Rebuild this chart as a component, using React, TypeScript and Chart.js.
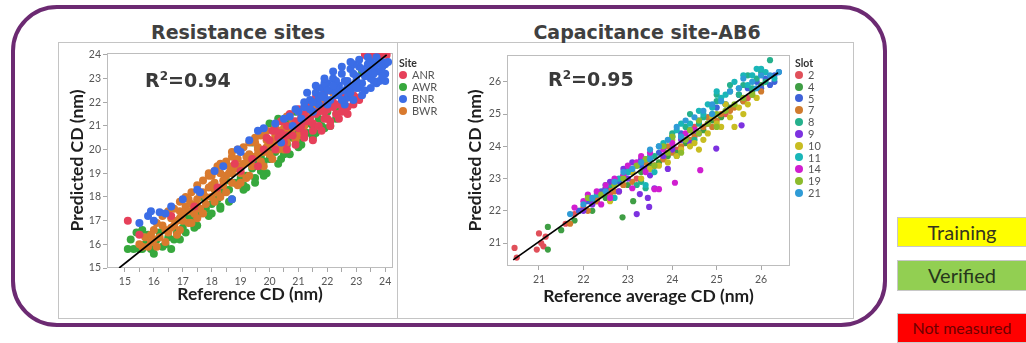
import React, { useEffect, useRef } from 'react';
import { Chart, registerables } from 'chart.js';

Chart.register(...registerables);

// ---------- Resistance sites (left chart) ----------
const siteNames = ['ANR', 'AWR', 'BNR', 'BWR'];
const siteColors = ['#e6405a', '#37a83d', '#3b6de6', '#d97a2e'];
// stacking: larger = drawn further back
const siteDepth = [2, 4, 1, 3];

const anrPts = [
  [19.0, 19.1], [19.4, 19.6], [19.8, 20.0], [20.0, 20.4], [20.2, 20.0], [20.4, 20.7], [20.5, 20.3], [20.6, 21.0],
  [20.8, 20.6], [20.9, 21.2], [21.0, 20.9], [21.1, 21.4], [21.2, 20.7], [21.3, 21.2], [21.4, 21.7], [21.5, 21.1],
  [21.6, 21.5], [21.7, 21.0], [21.8, 21.8], [21.9, 21.3], [22.0, 21.7], [22.1, 21.2], [22.2, 22.0], [22.3, 21.5],
  [22.4, 21.9], [22.5, 21.6], [22.6, 22.1], [22.7, 21.8], [21.0, 21.7], [20.7, 21.5], [23.3, 24.0], [23.55, 24.0],
  [23.8, 24.0], [24.05, 24.0], [15.1, 17.0], [15.5, 16.4], [16.6, 17.2], [17.4, 17.6], [18.2, 18.4], [18.8, 19.4],
  [19.6, 19.3], [20.1, 20.8], [21.5, 20.8], [22.0, 21.3], [22.4, 22.3], [20.3, 20.5], [21.7, 21.9],
  [20.6, 20.0], [20.9, 20.2], [21.2, 20.5], [21.5, 20.4], [21.8, 20.8], [22.1, 21.0], [22.4, 21.3], [22.7, 21.5],
  [22.9, 21.9], [23.0, 22.2], [22.5, 22.3], [22.8, 22.6], [21.3, 21.9], [21.6, 22.2], [21.9, 22.4], [20.4, 21.2],
  [20.2, 20.8], [19.9, 20.5], [21.1, 21.0], [21.4, 21.3], [21.7, 21.6], [22.0, 22.0],
  [21.9, 21.6], [22.2, 21.8], [22.6, 21.7], [21.2, 21.5], [20.6, 20.6], [22.9, 22.3], [23.1, 22.1],
];
const awrPts = [
  [15.1, 15.8], [15.3, 15.8], [15.5, 15.8], [15.6, 16.6], [15.4, 16.5], [15.7, 16.0], [15.9, 15.8], [16.1, 16.2],
  [16.3, 15.9], [16.5, 16.3], [16.6, 15.8], [16.4, 16.0], [16.8, 16.5], [17.0, 16.7], [17.2, 17.2], [17.4, 17.0],
  [17.6, 17.3], [17.8, 17.5], [18.0, 17.7], [18.2, 17.9], [18.4, 18.2], [18.6, 18.3], [18.8, 18.6], [19.0, 18.8],
  [19.2, 18.9], [19.4, 19.2], [19.5, 18.8], [19.6, 19.4], [19.8, 19.5], [20.0, 19.6], [20.2, 19.9], [20.4, 20.1],
  [20.6, 20.2], [20.8, 20.5], [21.0, 20.4], [21.1, 20.8], [21.3, 20.7], [21.5, 21.0], [21.7, 21.3], [20.0, 21.1],
  [20.3, 21.3], [17.7, 18.0], [18.5, 18.7], [19.3, 19.6], [19.9, 20.0], [20.7, 20.9], [21.2, 21.2], [22.0, 21.6],
  [22.3, 21.8], [23.2, 23.3], [15.2, 16.2], [16.2, 16.5], [19.1, 18.5], [19.7, 19.1], [20.5, 19.8], [18.3, 17.6],
  [17.1, 16.5], [17.5, 16.8], [17.9, 17.2], [18.3, 17.5], [18.7, 17.9], [19.1, 18.3], [19.5, 18.6], [19.9, 19.0],
  [20.3, 19.4], [20.7, 19.8], [21.1, 20.2], [21.5, 20.5], [21.9, 20.9], [22.3, 21.3], [20.5, 20.5], [20.9, 20.8],
  [21.3, 21.1], [19.7, 19.7], [20.1, 19.9], [21.8, 21.0], [16.0, 15.6], [15.8, 16.4], [16.7, 16.2], [19.4, 20.3],
  [19.8, 20.7], [20.6, 21.2], [20.9, 21.6],
  [17.4, 16.7], [18.0, 17.3], [18.6, 17.8], [19.2, 18.4], [19.8, 18.9], [20.4, 19.6], [21.0, 20.1], [21.6, 20.7],
  [22.1, 21.0], [15.6, 15.8], [16.9, 16.2],
];
const bnrPts = [
  [21.2, 21.8], [21.4, 22.1], [21.5, 21.6], [21.6, 22.4], [21.7, 21.9], [21.8, 22.6], [21.9, 22.2], [22.0, 22.8],
  [22.0, 21.9], [22.1, 22.5], [22.2, 23.0], [22.3, 22.3], [22.4, 22.7], [22.5, 23.2], [22.6, 22.5], [22.7, 22.9],
  [22.8, 23.4], [22.9, 22.7], [23.0, 23.1], [23.1, 23.5], [23.2, 22.8], [23.3, 23.3], [23.4, 23.6], [23.5, 23.0],
  [23.6, 23.4], [23.7, 22.8], [23.8, 23.3], [23.9, 23.7], [24.0, 23.2], [23.5, 23.7], [22.9, 23.6], [22.3, 22.9],
  [21.9, 22.8], [23.1, 22.6], [22.7, 22.2], [23.7, 23.6], [19.6, 20.8], [20.2, 21.1], [20.7, 21.4], [21.0, 21.6],
  [19.0, 19.9], [18.4, 19.3], [17.5, 18.3], [18.9, 20.0], [20.4, 20.3], [15.8, 17.2], [15.9, 17.4], [16.2, 17.35],
  [16.4, 17.3], [15.5, 16.9], [16.0, 17.0], [18.7, 17.9], [17.6, 18.2], [23.3, 22.5], [24.0, 23.6],
  [21.3, 22.4], [21.6, 22.7], [21.9, 23.0], [22.2, 23.3], [22.5, 23.5], [22.8, 23.7], [23.1, 23.8], [23.4, 23.9],
  [23.7, 23.9], [22.1, 22.1], [22.4, 22.4], [22.7, 22.7], [23.0, 22.9], [23.3, 23.1], [23.6, 23.2], [23.9, 23.5],
  [24.1, 23.7], [23.8, 22.9], [24.0, 22.9], [23.5, 22.6], [23.2, 22.3], [22.9, 22.1], [22.6, 21.9], [21.7, 22.2],
  [21.4, 21.7], [22.0, 22.5], [22.3, 22.6], [22.6, 22.9], [22.9, 23.2], [23.2, 23.4], [20.5, 21.3], [20.9, 21.7],
  [21.2, 22.0], [19.3, 20.4], [19.8, 20.9], [18.1, 19.1], [17.0, 17.9], [16.6, 17.6],
  [21.1, 21.3], [21.8, 22.3], [22.2, 22.7], [22.5, 22.1], [22.8, 22.4], [23.0, 22.6], [23.4, 23.3], [23.6, 22.9],
  [23.9, 23.1], [21.5, 22.0], [20.8, 21.0],
];
const bwrPts = [
  [15.5, 16.0], [15.7, 16.3], [15.9, 16.1], [16.0, 16.6], [16.2, 16.3], [16.3, 16.8], [16.5, 16.5], [16.6, 17.1],
  [16.7, 16.8], [16.9, 17.4], [17.0, 17.0], [17.1, 17.6], [17.2, 16.9], [17.3, 17.7], [17.4, 17.3], [17.5, 17.9],
  [17.6, 17.5], [17.7, 18.2], [17.8, 17.7], [17.9, 18.4], [18.0, 18.0], [18.0, 18.9], [18.1, 18.6], [18.2, 18.2],
  [18.3, 19.0], [18.4, 18.5], [18.5, 18.9], [18.6, 19.3], [18.7, 18.6], [18.8, 19.2], [18.9, 19.6], [19.0, 19.0],
  [19.1, 19.4], [19.2, 18.8], [19.3, 19.8], [19.4, 19.3], [19.5, 19.7], [19.6, 20.1], [19.7, 19.5], [19.8, 19.9],
  [19.9, 20.4], [20.0, 19.8], [20.1, 20.2], [20.2, 20.6], [20.3, 20.0], [20.4, 20.4], [20.5, 20.9], [20.6, 20.3],
  [20.7, 20.7], [20.9, 21.1], [21.0, 20.6], [21.2, 21.0], [21.4, 21.4], [16.1, 15.9], [16.4, 16.1], [16.8, 16.4],
  [17.5, 17.1], [18.3, 18.0], [19.0, 18.6], [19.8, 19.3], [20.5, 20.0], [15.8, 15.9], [17.9, 19.0], [18.2, 19.3],
  [18.7, 19.7], [16.0, 16.2], [17.0, 17.3], [19.5, 20.3],
  [16.1, 16.9], [16.3, 17.2], [16.5, 17.4], [16.7, 17.5], [16.9, 17.8], [17.1, 18.0], [17.3, 18.2], [17.5, 18.5],
  [17.7, 18.7], [17.9, 18.9], [18.1, 19.1], [18.3, 19.4], [18.5, 19.5], [18.7, 19.9], [18.9, 20.0], [19.1, 20.1],
  [19.3, 20.3], [19.5, 20.5], [19.7, 20.6], [19.9, 20.8], [16.6, 16.7], [16.9, 17.1], [17.2, 17.4], [17.5, 17.6],
  [17.8, 18.0], [18.1, 18.3], [18.4, 18.7], [18.7, 19.0], [19.0, 19.3], [19.3, 19.5], [19.6, 19.8], [19.9, 20.1],
  [20.2, 20.3], [20.5, 20.6], [20.8, 20.9], [21.1, 21.3], [21.6, 21.8], [21.9, 22.1], [22.2, 22.4], [16.9, 16.6],
  [17.3, 16.9], [17.7, 17.3], [18.1, 17.8], [18.5, 18.2], [18.9, 18.5], [19.3, 18.9], [20.1, 19.6], [20.9, 20.4],
  [17.2, 17.9], [17.6, 18.1], [18.0, 18.5], [18.6, 19.0], [19.2, 19.7], [19.6, 20.0], [20.0, 20.4], [20.4, 20.8],
  [20.8, 21.2], [21.3, 21.6], [16.4, 16.6], [16.8, 17.0], [15.6, 15.9], [15.9, 16.4], [20.6, 21.4], [20.2, 21.0],
];
const siteSeries = [anrPts, awrPts, bnrPts, bwrPts];

const resXTicks = [15, 15.5, 16, 16.5, 17, 17.5, 18, 18.5, 19, 19.5, 20, 20.5, 21, 21.5, 22, 22.5, 23, 23.5, 24];
const resYTicks = [15, 16, 17, 18, 19, 20, 21, 22, 23, 24];
const resFitX = [14.8, 24.05];
const resFitY = [15.0, 24.0];

// ---------- Capacitance site-AB6 (right chart) ----------
const slotNames = ['2', '4', '5', '7', '8', '9', '10', '11', '14', '19', '21'];
const slotColors = ['#e0505a', '#3f9e44', '#3f62d8', '#d07b2e', '#25b08c', '#7d32e0', '#c8bd22', '#1ab6b8', '#d01ed0', '#8cbb2c', '#2f9bd6'];
const slotDepth = [11, 10, 9, 8, 7, 6, 5, 4, 3, 2, 1];

const slot2 = [[20.45, 20.85], [20.5, 20.55], [20.95, 20.8], [21.0, 21.3], [21.05, 21.0], [21.1, 20.9], [21.15, 21.2], [21.6, 21.6], [22.3, 22.4], [22.6, 22.5], [22.9, 22.8], [23.2, 23.0], [23.6, 23.4], [24.1, 23.9], [24.5, 24.6], [22.0, 22.1], [23.0, 23.3],
  [22.2, 22.3], [22.5, 22.7], [22.8, 22.6], [23.4, 23.3], [23.8, 23.6], [24.3, 24.2], [24.8, 24.7], [25.2, 25.0], [25.7, 25.5], [21.8, 21.9], [22.4, 22.5]];
const slot4 = [[21.2, 21.5], [21.2, 20.8], [21.5, 21.4], [21.8, 21.7], [22.2, 22.0], [22.5, 22.4], [22.88, 21.8], [23.12, 22.3], [23.5, 23.4], [23.9, 23.7], [24.3, 24.1], [24.7, 24.5], [25.1, 24.9], [25.6, 25.4], [26.0, 25.9], [22.7, 22.9], [24.0, 24.3],
  [21.9, 22.0], [22.3, 22.3], [23.0, 22.8], [23.3, 23.2], [23.7, 23.5], [24.5, 24.4], [24.9, 24.8], [25.3, 25.2], [25.8, 25.7], [24.1, 23.8]];
const slot5 = [[21.9, 22.0], [22.4, 22.6], [22.8, 22.9], [23.3, 23.4], [23.7, 23.8], [24.2, 24.4], [24.6, 24.8], [25.0, 25.2], [25.5, 25.6], [25.9, 26.0], [26.1, 26.1], [26.3, 26.2], [26.4, 26.3], [26.2, 25.9], [24.0, 24.0], [23.0, 23.2],
  [22.1, 22.3], [22.6, 22.8], [23.1, 23.2], [23.5, 23.6], [24.4, 24.5], [24.8, 24.9], [25.2, 25.3], [25.7, 25.8], [26.0, 25.8], [26.3, 26.0]];
const slot7 = [[21.7, 21.6], [22.1, 22.0], [22.6, 22.7], [23.1, 22.9], [23.4, 23.5], [23.8, 23.6], [24.2, 24.0], [24.5, 24.3], [24.8, 24.9], [25.1, 25.0], [25.4, 25.2], [25.8, 25.6], [24.9, 24.6], [23.9, 24.0], [22.7, 22.6],
  [22.3, 22.3], [22.9, 22.8], [23.6, 23.4], [24.0, 23.8], [24.4, 24.2], [24.7, 24.6], [25.0, 24.8], [25.3, 25.1], [25.6, 25.4], [26.0, 25.7]];
const slot8 = [[22.2, 22.3], [22.9, 23.1], [23.3, 22.9], [23.6, 23.7], [24.0, 24.4], [24.3, 24.6], [24.7, 24.9], [25.0, 25.4], [25.3, 25.7], [25.6, 25.9], [25.9, 26.1], [26.2, 26.67], [26.0, 26.3], [25.7, 26.2], [25.3, 25.9], [24.1, 23.7], [24.5, 24.2], [23.2, 22.8], [23.4, 22.7],
  [22.6, 22.8], [23.0, 23.3], [23.8, 24.0], [24.2, 24.3], [24.6, 24.7], [24.9, 25.0], [25.2, 25.3], [25.5, 25.6], [25.8, 25.8], [26.1, 26.0], [25.0, 25.6], [24.4, 25.0]];
const slot9 = [[22.2, 22.2], [22.5, 22.7], [22.9, 23.3], [23.2, 21.9], [23.27, 22.52], [23.48, 22.12], [23.45, 22.4], [23.6, 22.7], [23.0, 23.0], [23.5, 23.1], [24.0, 23.9], [24.99, 23.93], [25.56, 24.65], [24.4, 24.1], [22.8, 22.6], [23.3, 23.6],
  [22.0, 22.0], [22.4, 22.5], [22.6, 22.9], [23.1, 23.5], [23.4, 23.3], [23.8, 23.7], [24.2, 24.2], [24.6, 24.4], [23.9, 23.3]];
const slot10 = [[23.1, 23.2], [23.5, 23.3], [23.9, 23.5], [24.2, 23.9], [24.5, 24.1], [24.8, 24.4], [25.0, 24.7], [25.3, 24.9], [25.5, 25.2], [25.4, 24.6], [24.6, 23.9], [25.7, 25.3], [24.0, 24.2], [22.6, 22.3],
  [23.3, 23.0], [23.7, 23.4], [24.1, 23.7], [24.4, 24.0], [24.7, 24.2], [25.1, 24.6], [25.6, 25.0], [25.9, 25.5], [24.9, 24.9], [25.2, 25.3]];
const slot11 = [[22.3, 22.5], [22.8, 23.0], [23.2, 23.4], [23.5, 23.7], [23.8, 24.1], [24.1, 24.5], [24.4, 24.7], [24.7, 25.0], [24.9, 25.2], [25.2, 25.6], [25.5, 25.8], [25.8, 26.2], [26.0, 26.4], [26.3, 26.1], [25.1, 25.5], [24.3, 24.2], [23.6, 23.2], [23.4, 22.8], [22.7, 22.4],
  [22.5, 22.8], [23.0, 23.2], [23.4, 23.6], [23.7, 24.0], [24.0, 24.3], [24.2, 24.7], [24.6, 25.1], [24.8, 25.3], [25.0, 25.7], [25.4, 26.0], [25.7, 25.9], [26.1, 26.3], [25.9, 26.4], [25.6, 26.2]];
const slot14 = [[22.3, 22.6], [22.7, 23.0], [23.0, 23.4], [23.3, 23.7], [23.6, 22.67], [23.7, 22.67], [24.06, 22.87], [24.63, 23.26], [23.8, 23.9], [24.3, 24.4], [22.0, 22.3], [21.8, 22.1], [22.4, 22.2], [23.4, 23.2],
  [22.1, 22.5], [22.5, 22.8], [22.9, 23.1], [23.2, 23.5], [23.5, 23.8], [24.0, 24.1], [24.5, 24.5], [23.1, 22.7], [22.6, 22.4]];
const slot19 = [[22.1, 22.4], [22.7, 22.8], [23.2, 23.4], [23.6, 23.4], [24.0, 24.3], [24.4, 24.5], [24.8, 24.7], [25.2, 25.1], [25.6, 25.5], [24.2, 23.8], [25.0, 24.6], [23.9, 23.8],
  [22.4, 22.5], [22.9, 23.0], [23.4, 23.6], [23.8, 24.0], [24.3, 24.2], [24.6, 24.4], [25.0, 25.0], [25.4, 25.3], [25.8, 25.6], [24.6, 24.8]];
const slot21 = [[21.7, 21.9], [22.0, 22.2], [22.5, 22.6], [22.9, 23.2], [23.3, 23.5], [23.7, 24.0], [24.1, 24.6], [24.5, 24.9], [24.9, 25.3], [25.3, 25.7], [25.6, 26.1], [26.0, 26.2], [26.4, 26.3], [25.9, 25.8], [24.3, 24.8], [23.5, 23.9],
  [22.2, 22.4], [22.7, 22.9], [23.1, 23.3], [23.5, 23.6], [23.9, 24.2], [24.2, 24.3], [24.7, 25.1], [25.1, 25.4], [25.5, 25.8], [25.8, 26.0], [26.2, 26.2], [24.9, 25.0]];
const slotSeries = [slot2, slot4, slot5, slot7, slot8, slot9, slot10, slot11, slot14, slot19, slot21];

const capXTicks = [21, 22, 23, 24, 25, 26];
const capYTicks = [21, 22, 23, 24, 25, 26];
const capFitX = [20.42, 26.38];
const capFitY = [20.48, 26.28];

// ---------- status boxes ----------
const statusLabels = ['Training', 'Verified', 'Not measured'];
const statusColors = ['#ffff00', '#92cf52', '#ff0000'];
const statusText = ['#35351f', '#26361c', '#6e0000'];

const FONT = 'Lato, "Open Sans", sans-serif';
const HEAD = '"DejaVu Sans", Lato, sans-serif';

const framePlugin = {
  id: 'plotFrame',
  beforeDatasetsDraw(chart: any) {
    const { ctx, chartArea: a } = chart;
    ctx.save();
    ctx.strokeStyle = '#bdbdbd';
    ctx.lineWidth = 1;
    ctx.strokeRect(Math.round(a.left) + 0.5, Math.round(a.top) + 0.5, Math.round(a.right - a.left) - 1, Math.round(a.bottom - a.top) - 1);
    ctx.restore();
  },
};

function makeConfig(o: any) {
  const datasets: any[] = o.series.map((pts: number[][], i: number) => ({
    type: 'scatter',
    label: o.names[i],
    data: pts.map(([x, y]) => ({ x, y })),
    backgroundColor: o.colors[i],
    borderWidth: 0,
    pointRadius: o.radius,
    pointHoverRadius: o.radius,
    order: o.depth[i],
  }));
  datasets.push({
    type: 'line',
    label: 'fit',
    data: o.fitX.map((x: number, i: number) => ({ x, y: o.fitY[i] })),
    borderColor: '#000000',
    borderWidth: 1.7,
    pointRadius: 0,
    fill: false,
    order: 0,
  });
  const tickFont = { family: FONT, size: 10.5 };
  const titleFont = { family: FONT, size: 17.5, weight: 'bold' as const };
  return {
    type: 'scatter' as const,
    data: { datasets },
    options: {
      animation: false,
      responsive: false,
      events: [],
      layout: { padding: { left: o.padLeft, right: o.padRight, top: o.padTop, bottom: 0 } },
      plugins: { legend: { display: false }, tooltip: { enabled: false } },
      scales: {
        x: {
          type: 'linear',
          min: o.xMin,
          max: o.xMax,
          afterBuildTicks: (s: any) => { s.ticks = o.xTicks.map((v: number) => ({ value: v })); },
          afterFit: (s: any) => { s.height = o.xAxisH; },
          ticks: {
            autoSkip: false,
            maxRotation: 0,
            padding: 3,
            color: '#555',
            font: tickFont,
            callback: (v: number) => (Number.isInteger(v) ? String(v) : ''),
          },
          grid: { drawOnChartArea: false, drawTicks: true, tickLength: 4, color: '#a8a8a8' },
          border: { display: false },
          title: { display: true, text: o.xTitle, color: '#1e1e1e', font: titleFont, padding: { top: 0, bottom: o.xTitlePad } },
        },
        y: {
          type: 'linear',
          min: o.yMin,
          max: o.yMax,
          afterBuildTicks: (s: any) => { s.ticks = o.yTicks.map((v: number) => ({ value: v })); },
          afterFit: (s: any) => { s.width = o.yAxisW; },
          ticks: { autoSkip: false, padding: 2, color: '#555', font: tickFont },
          grid: { drawOnChartArea: false, drawTicks: true, tickLength: 4, color: '#a8a8a8' },
          border: { display: false },
          title: { display: true, text: o.yTitle, color: '#1e1e1e', font: titleFont, padding: { top: 9, bottom: 0 } },
        },
      },
    },
    plugins: [framePlugin],
  };
}

function ChartCanvas({ left, top, width, height, config }: any) {
  const ref = useRef<HTMLCanvasElement | null>(null);
  useEffect(() => {
    if (!ref.current) return;
    const chart = new Chart(ref.current, config());
    return () => chart.destroy();
  }, []);
  return (
    <canvas
      ref={ref}
      width={width}
      height={height}
      style={{ position: 'absolute', left, top, width, height }}
    />
  );
}

function Legend({ left, top, title, names, colors, rowH }: any) {
  return (
    <div style={{ position: 'absolute', left, top, fontFamily: FONT }}>
      <div style={{ fontWeight: 700, fontSize: 10.5, color: '#333', height: 12, lineHeight: '12px' }}>{title}</div>
      {names.map((n: string, i: number) => (
        <div key={n} style={{ height: rowH, display: 'flex', alignItems: 'center' }}>
          <span style={{ display: 'inline-block', width: 8, height: 8, borderRadius: 4, background: colors[i], marginRight: 5 }} />
          <span style={{ fontSize: 11, color: '#555', lineHeight: `${rowH}px` }}>{n}</span>
        </div>
      ))}
    </div>
  );
}

function R2({ left, top, value }: any) {
  return (
    <div style={{ position: 'absolute', left, top, fontFamily: HEAD, fontWeight: 700, fontSize: 19, color: '#3a3a3a', lineHeight: '22px', whiteSpace: 'nowrap' }}>
      R<span style={{ fontSize: 12, verticalAlign: 7 }}>2</span>={value}
    </div>
  );
}

export default function App() {
  const leftCfg = () =>
    makeConfig({
      series: siteSeries, names: siteNames, colors: siteColors, depth: siteDepth, fitX: resFitX, fitY: resFitY,
      xMin: 14.38, xMax: 24.27, yMin: 15, yMax: 24.08, xTicks: resXTicks, yTicks: resYTicks,
      xTitle: 'Reference CD (nm)', yTitle: 'Predicted CD (nm)',
      padLeft: 0, padRight: 1, padTop: 11, yAxisW: 49, xAxisH: 50, xTitlePad: 13, radius: 4,
    });
  const rightCfg = () =>
    makeConfig({
      series: slotSeries, names: slotNames, colors: slotColors, depth: slotDepth, fitX: capFitX, fitY: capFitY,
      xMin: 20.28, xMax: 26.65, yMin: 20.29, yMax: 26.83, xTicks: capXTicks, yTicks: capYTicks,
      xTitle: 'Reference average CD (nm)', yTitle: 'Predicted CD (nm)',
      padLeft: 58, padRight: 63, padTop: 13, yAxisW: 51, xAxisH: 52, xTitlePad: 11, radius: 3.1,
    });

  return (
    <div style={{ position: 'fixed', left: 0, top: 0, width: 1026, height: 343, background: '#fff', overflow: 'hidden' }}>
      {/* purple rounded frame */}
      <div style={{ position: 'absolute', left: 11, top: 5, width: 876, height: 322, border: '4px solid #6c2a72', borderRadius: 46, boxSizing: 'border-box' }} />
      {/* grey graph frames */}
      <div style={{ position: 'absolute', left: 58, top: 42, width: 796, height: 277, border: '1px solid #c4c4c4', boxSizing: 'border-box' }} />
      <div style={{ position: 'absolute', left: 397, top: 42, width: 1, height: 277, background: '#c4c4c4' }} />

      {/* titles */}
      <div style={{ position: 'absolute', left: 108, top: 22, width: 260, textAlign: 'center', fontFamily: HEAD, fontWeight: 700, fontSize: 19, lineHeight: '21px', color: '#404040' }}>Resistance sites</div>
      <div style={{ position: 'absolute', left: 507, top: 22, width: 280, textAlign: 'center', fontFamily: HEAD, fontWeight: 700, fontSize: 19, lineHeight: '21px', color: '#404040' }}>Capacitance site-AB6</div>

      <ChartCanvas left={58} top={42} width={339} height={276} config={leftCfg} />
      <ChartCanvas left={398} top={42} width={455} height={276} config={rightCfg} />

      <R2 left={145} top={65} value="0.94" />
      <R2 left={548} top={64} value="0.95" />

      <Legend left={399} top={57} title="Site" names={siteNames} colors={siteColors} rowH={12} />
      <Legend left={795} top={57} title="Slot" names={slotNames} colors={slotColors} rowH={11.8} />

      {statusLabels.map((s, i) => (
        <div
          key={s}
          style={{
            position: 'absolute', left: 897, top: [217, 260, 313][i], width: 129, height: [30, 31, 30][i],
            background: statusColors[i], borderTop: '1px solid #c8c8c8', borderLeft: '1px solid #c8c8c8', borderBottom: '1px solid #c8c8c8',
            boxSizing: 'border-box', textAlign: 'center', fontFamily: FONT, fontSize: i === 2 ? 16 : 20,
            lineHeight: `${[28, 29, 28][i]}px`, color: statusText[i],
          }}
        >
          {s}
        </div>
      ))}
    </div>
  );
}
